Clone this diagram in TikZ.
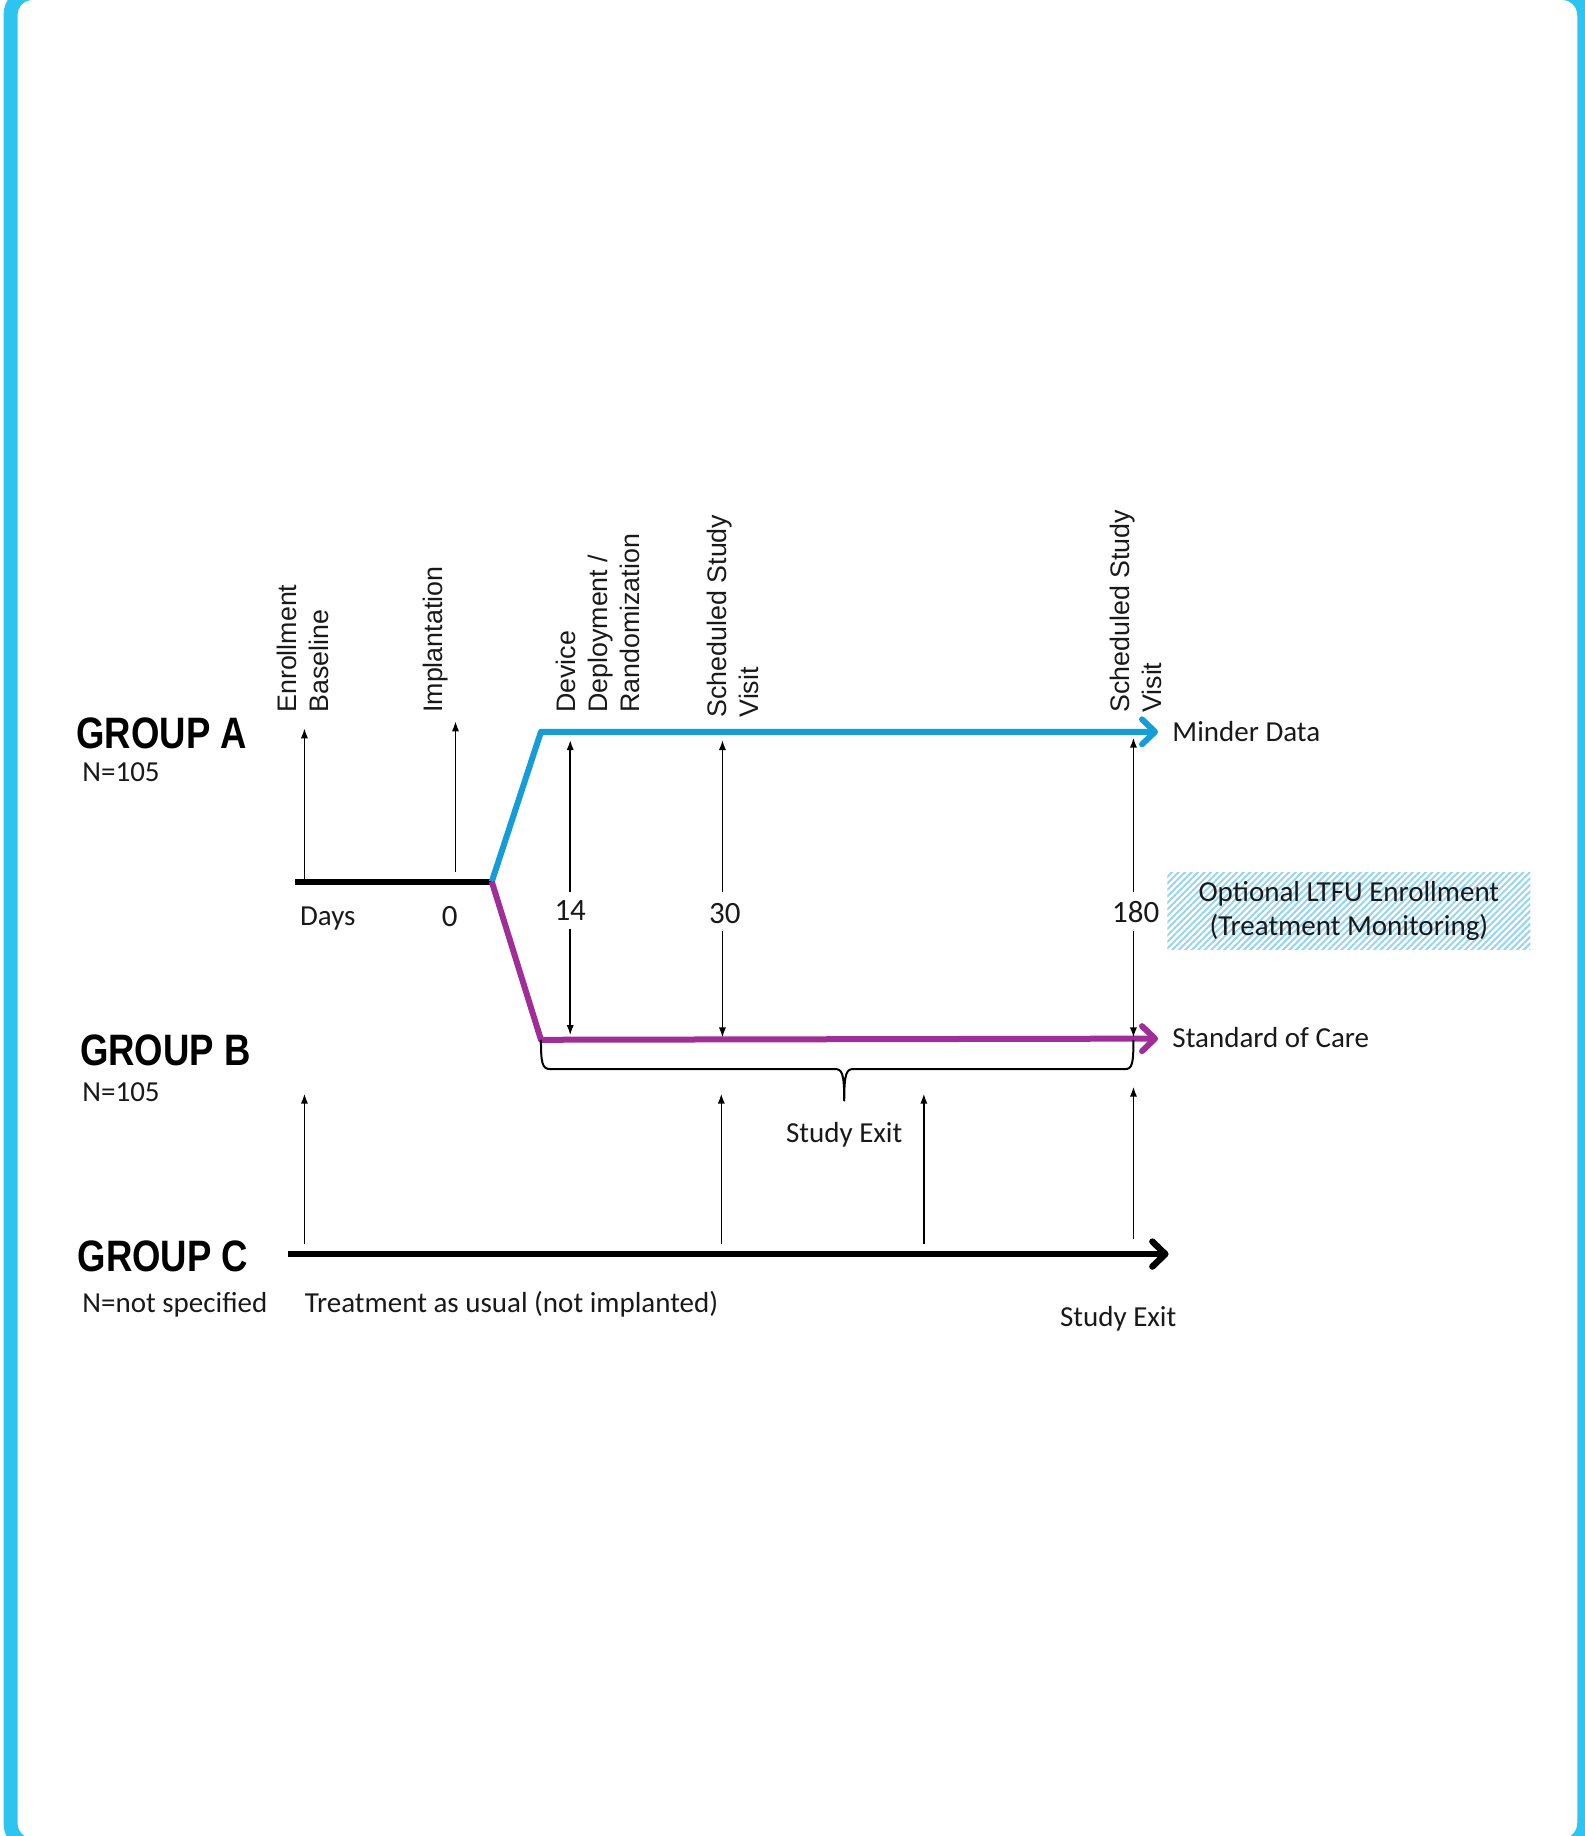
\documentclass[tikz,border=0pt]{standalone}
\usepackage{fontspec}
\usetikzlibrary{arrows.meta,patterns.meta}
\newfontfamily\labfont{Carlito}
\newfontfamily\rotfont{Liberation Sans}
\newfontfamily\grpfont[FakeStretch=0.83]{Liberation Sans}
\definecolor{frameblue}{RGB}{46,196,240}
\definecolor{lineblue}{RGB}{22,157,216}
\definecolor{linemag}{RGB}{160,46,152}
\definecolor{hatchblue}{RGB}{150,212,242}
\definecolor{txt}{RGB}{25,25,25}
\begin{document}
\begin{tikzpicture}[x={(0.58537pt,0)}, y={(0,-0.58537pt)},
  lab/.style={font=\labfont\fontsize{14.5}{17}\selectfont, text=txt, inner sep=0pt},
  num/.style={font=\labfont\fontsize{15.5}{18}\selectfont, text=txt, inner sep=0pt},
  grp/.style={font=\grpfont\bfseries\fontsize{22}{26}\selectfont, text=black, inner sep=0pt},
  vlab/.style={font=\rotfont\fontsize{13.4}{16.1}\selectfont, rotate=90, align=left, anchor=west, inner sep=0pt, text=txt},
  pin/.style={line width=0.75pt, -{Latex[length=5pt,width=3.6pt]}},
  track/.style={line width=3pt},
  chev/.style={-{Straight Barb[length=6.5pt,width=12.5pt,round]}},
  ltfubox/.style={minimum width=181.5pt, minimum height=38.6pt, inner sep=0pt,
    pattern={Lines[angle=45,distance=2.3pt,line width=1pt]}, pattern color=hatchblue,
    align=center, font=\labfont\fontsize{14.5}{17}\selectfont, text=txt},
]
\useasboundingbox (0,0) rectangle (1353,1568);
\draw[frameblue, line width=7pt, rounded corners=11pt] (9,-6) rectangle (1353,1576);

% ---- group labels
\node[grp, anchor=base west] (gA) at (65,639) {GROUP A};
\node[lab, anchor=base west] (nA) at (70,667) {N=105};
\node[grp, anchor=base west] (gB) at (68,910) {GROUP B};
\node[lab, anchor=base west] (nB) at (70,941) {N=105};
\node[grp, anchor=base west] (gC) at (66,1086) {GROUP C};
\node[lab, anchor=base west] (nC) at (70,1121) {N=not specified};
\node[lab, anchor=base west] (tau) at (260,1121) {Treatment as usual (not implanted)};

% ---- vertical event labels
\node[vlab] (vEnr) at (258.5,609) {Enrollment\\Baseline};
\node[vlab] (vImp) at (372,609) {Implantation};
\node[vlab] (vDev) at (510.5,609) {Device\\Deployment /\\Randomization};
\node[vlab] (vS30) at (626,613) {Scheduled Study\\Visit};
\node[vlab] (vS180) at (970,609) {Scheduled Study\\Visit};

% ---- day labels
\node[lab, anchor=base west] (days) at (256,790) {Days};
\node[num, anchor=base] (d0) at (384,791.5) {0};
\node[num, anchor=base] (d14) at (487,786.5) {14};
\node[num, anchor=base] (d30) at (619,788.5) {30};
\node[num, anchor=base] (d180) at (970,787.5) {180};

% ---- end labels
\node[lab, anchor=base west] (minder) at (1001,633) {Minder Data};
\node[lab, anchor=base west] (soc) at (1001,895) {Standard of Care};
\node[ltfubox] (ltfu) at (1152,778) {Optional LTFU Enrollment\\(Treatment Monitoring)};
\node[lab, anchor=base] (exitB) at (721,976) {Study Exit};
\node[lab, anchor=base] (exitC) at (955,1133) {Study Exit};

% ---- track coordinates
\coordinate (c0) at (252,753);
\coordinate (split) at (420,753);
\coordinate (aknee) at (462,625);
\coordinate (aend) at (989,625);
\coordinate (bknee) at (462,888);
\coordinate (bend) at (989,887);
\coordinate (cstart) at (246,1071);
\coordinate (cend) at (998,1071);

% ---- tracks
\draw[track, black] (c0) -- (split);
\draw[track, lineblue, chev, line join=round] (split) -- (aknee) -- (aend);
\draw[track, linemag, chev, line join=round] (split) -- (bknee) -- (bend);
\draw[track, black, chev, line width=3.2pt] (cstart) -- (cend);

% ---- brace (Study Exit, group B)
\coordinate (braceR) at (968,888);
\coordinate (braceTip) at (721,940);
\draw[line width=1pt, line join=round]
  (bknee) .. controls (462,908) and (463,913) .. (470,913) -- (713,913)
  .. controls (719,913) and (721,916) .. (braceTip)
  .. controls (721,916) and (723,913) .. (729,913) -- (961,913)
  .. controls (967,913) and (968,908) .. (braceR);

% ---- thin event arrows, groups A/B
\coordinate (e0) at (260,753);   \coordinate (e1) at (260,622);
\coordinate (i0) at (389,745);   \coordinate (i1) at (389,616);
\coordinate (u14a) at (487,762); \coordinate (u14b) at (487,632);
\coordinate (l14a) at (487,793); \coordinate (l14b) at (487,884);
\coordinate (u30a) at (617,762); \coordinate (u30b) at (617,632);
\coordinate (l30a) at (617,795); \coordinate (l30b) at (617,886);
\coordinate (u180a) at (968,762); \coordinate (u180b) at (968,630);
\coordinate (l180a) at (968,795); \coordinate (l180b) at (968,886);
\draw[pin] (e0) -- (e1);
\draw[pin] (i0) -- (i1);
\draw[pin] (u14a) -- (u14b);
\draw[pin] (l14a) -- (l14b);
\draw[pin] (u30a) -- (u30b);
\draw[pin] (l30a) -- (l30b);
\draw[pin] (u180a) -- (u180b);
\draw[pin] (l180a) -- (l180b);

% ---- thin event arrows, group C
\coordinate (g1a) at (260,1062); \coordinate (g1b) at (260,934);
\coordinate (g2a) at (616,1062); \coordinate (g2b) at (616,934);
\coordinate (g3a) at (789,1062); \coordinate (g3b) at (789,934);
\coordinate (g4a) at (968,1058); \coordinate (g4b) at (968,928);
\draw[pin] (g1a) -- (g1b);
\draw[pin] (g2a) -- (g2b);
\draw[pin] (g3a) -- (g3b);
\draw[pin] (g4a) -- (g4b);
\end{tikzpicture}
\end{document}
